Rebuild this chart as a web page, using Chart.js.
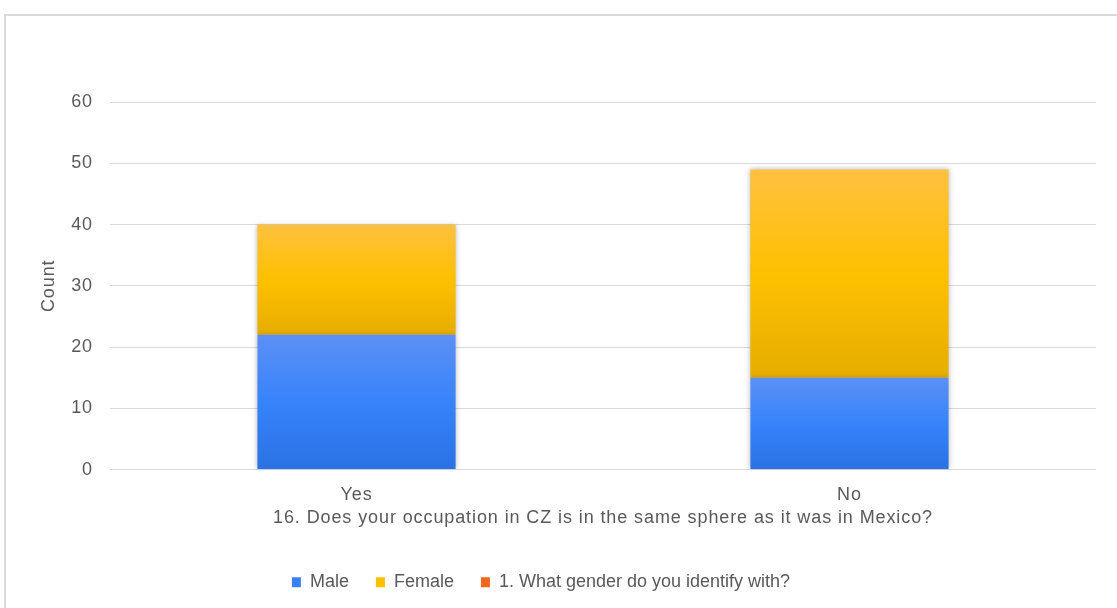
<!DOCTYPE html>
<html>
<head>
<meta charset="utf-8">
<script src="https://cdn.jsdelivr.net/npm/chart.js@4"></script>
<style>
html,body{margin:0;padding:0;background:#fff;}
#wrap{position:relative;width:1117px;height:608px;overflow:hidden;}
#frame{position:absolute;left:4px;top:14px;width:1130px;height:620px;border-left:2px solid #d9d9d9;border-top:2px solid #d9d9d9;box-sizing:border-box;}
canvas{position:absolute;left:0;top:0;}
</style>
</head>
<body>
<div id="wrap">
<div id="frame"></div>
<canvas id="c" width="1117" height="608"></canvas>
</div>
<script>
const categories = ["Yes", "No"];
const maleValues = [22, 15];
const femaleValues = [18, 34];
const genderQuestionValues = [];
const seriesNames = ["Male", "Female", "1. What gender do you identify with?"];
const xTitle = "16. Does your occupation in CZ is in the same sphere as it was in Mexico?";
const yTitle = "Count";

const FONT = "'Liberation Sans', Arial, sans-serif";
const TXT = "#595959";
const SPACING = '0.9px';
const LEGEND_SHIFT = -26;

const gradStops = [
  ["#5c90f5", "#3783fb", "#2a72e3"],
  ["#ffc13f", "#ffc000", "#e5ad00"],
  ["#f97a3a", "#f26522", "#d9560f"]
];
const flat = ["#3b80f2", "#ffc000", "#f4661b"];
const allData = [maleValues, femaleValues, genderQuestionValues];

function gradFill(dsIndex) {
  return function(ctx) {
    const chart = ctx.chart;
    const y = chart.scales && chart.scales.y;
    if (!chart.chartArea || !y || ctx.dataIndex === undefined) return flat[dsIndex];
    let base = 0;
    for (let d = 0; d < dsIndex; d++) base += (allData[d][ctx.dataIndex] || 0);
    const v = allData[dsIndex][ctx.dataIndex] || 0;
    const top = y.getPixelForValue(base + v);
    const bot = y.getPixelForValue(base);
    if (!isFinite(top) || !isFinite(bot) || top === bot) return flat[dsIndex];
    const g = chart.ctx.createLinearGradient(0, top, 0, bot);
    const s = gradStops[dsIndex];
    g.addColorStop(0, s[0]);
    g.addColorStop(0.5, s[1]);
    g.addColorStop(1, s[2]);
    return g;
  };
}

function noSpacing(chart, fn, shift) {
  return function() {
    const c = chart.ctx;
    const prev = c.letterSpacing;
    c.letterSpacing = '0px';
    if (shift) { c.save(); c.translate(shift, 0); }
    const r = fn.apply(this, arguments);
    if (shift) c.restore();
    c.letterSpacing = prev;
    return r;
  };
}

const spacingPlugin = {
  id: 'spacing',
  beforeUpdate(chart) {
    chart.ctx.letterSpacing = SPACING;
    const lg = chart.legend;
    if (lg && !lg._noSpacingWrapped) {
      lg._noSpacingWrapped = true;
      lg.fit = noSpacing(chart, lg.fit, 0);
      lg.draw = noSpacing(chart, lg.draw, LEGEND_SHIFT);
    }
  },
  beforeDraw(chart) { chart.ctx.letterSpacing = SPACING; }
};

const shadowPlugin = {
  id: 'barShadow',
  beforeDatasetsDraw(chart) {
    const c = chart.ctx;
    c.save();
    c.shadowColor = 'rgba(0,0,0,0.28)';
    c.shadowBlur = 5;
    c.shadowOffsetX = 0;
    c.shadowOffsetY = 0;
  },
  afterDatasetsDraw(chart) {
    chart.ctx.restore();
  }
};

new Chart(document.getElementById('c'), {
  type: 'bar',
  data: {
    labels: categories,
    datasets: allData.map((arr, i) => ({
      label: seriesNames[i],
      data: arr,
      backgroundColor: gradFill(i),
      borderWidth: 0,
      categoryPercentage: 1,
      barPercentage: 0.402
    }))
  },
  plugins: [spacingPlugin, shadowPlugin],
  options: {
    responsive: false,
    animation: false,
    devicePixelRatio: 1,
    layout: { padding: { left: 38, right: 21, top: 102, bottom: 6.7 } },
    plugins: {
      tooltip: { enabled: false },
      legend: {
        position: 'bottom',
        labels: {
          font: { family: FONT, size: 18 },
          color: TXT,
          boxWidth: 9,
          boxHeight: 10,
          padding: 27,
          generateLabels(chart) {
            return chart.data.datasets.map((ds, i) => ({
              text: ds.label,
              fillStyle: flat[i],
              strokeStyle: flat[i],
              lineWidth: 0,
              hidden: false,
              datasetIndex: i,
              fontColor: TXT
            }));
          }
        }
      }
    },
    scales: {
      x: {
        stacked: true,
        grid: { display: false, drawTicks: false },
        border: { display: false },
        ticks: { font: { family: FONT, size: 18 }, color: TXT, padding: 15 },
        title: { display: true, text: xTitle, font: { family: FONT, size: 18 }, color: TXT, padding: { top: 0, bottom: 17.9 } },
        afterFit(scale) { scale.height = 76.7; }
      },
      y: {
        stacked: true,
        min: 0, max: 60,
        ticks: { stepSize: 10, font: { family: FONT, size: 18 }, color: TXT, padding: 17 },
        grid: { color: '#d9d9d9', lineWidth: 1, drawTicks: false },
        border: { display: false },
        title: { display: true, text: yTitle, font: { family: FONT, size: 18 }, color: TXT, padding: { top: 0, bottom: 0 } },
        afterFit(scale) { scale.width = 72; }
      }
    }
  }
});
</script>
</body>
</html>
